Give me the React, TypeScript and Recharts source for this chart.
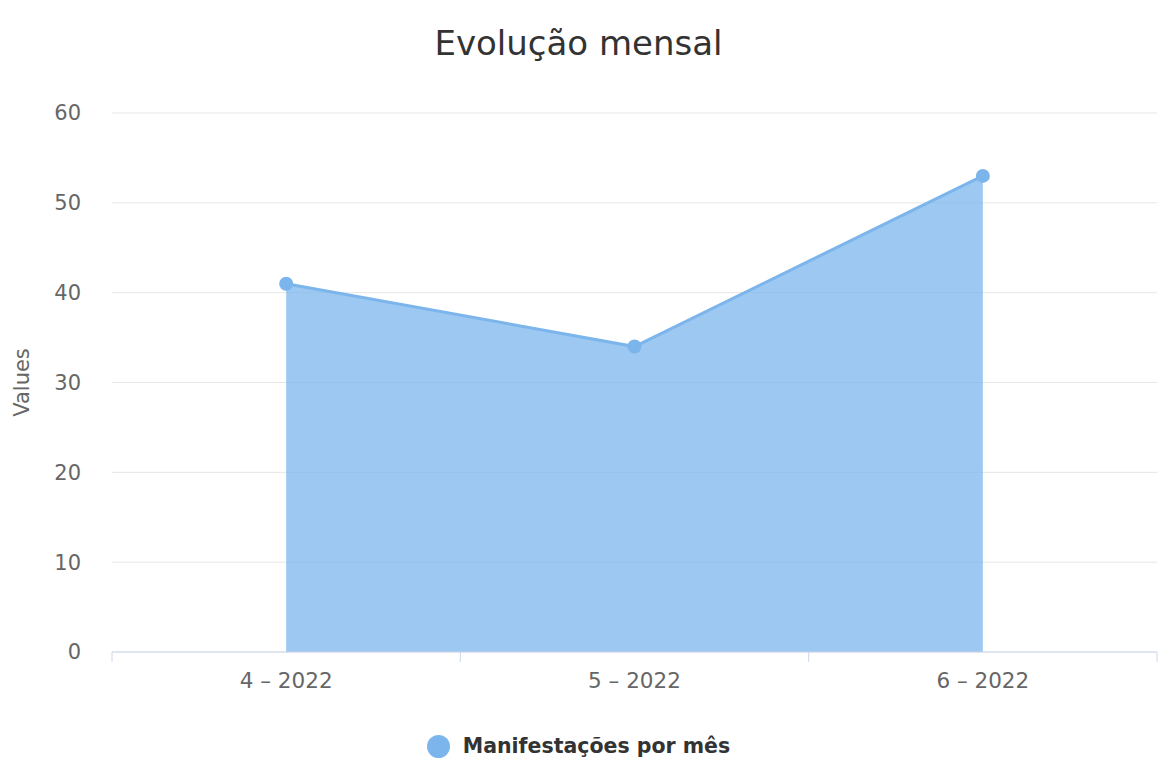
import { ComposedChart, Area, XAxis, YAxis, CartesianGrid, Legend } from "recharts";

const months = ["4 – 2022", "5 – 2022", "6 – 2022"];
const manifestacoes = [41, 34, 53];
const yTicks = [0, 10, 20, 30, 40, 50, 60];

const data = months.map((month, i) => ({ month, value: manifestacoes[i] }));

const FONT = "'DejaVu Sans', sans-serif";
const BLUE = "#7cb5ec";
const AXIS = "#ccd6eb";

const W = 1175;
const H = 777;
const LEFT = 112;
const RIGHT = 18;
// half of one category band, used as axis padding so points sit in the band centres
const HALF_BAND = (W - LEFT - RIGHT) / months.length / 2;

function XTick(props: any) {
  const { x, y, payload, index } = props;
  return (
    <g>
      <line x1={x - HALF_BAND} x2={x - HALF_BAND} y1={y} y2={y + 10} stroke={AXIS} />
      {index === months.length - 1 && (
        <line x1={x + HALF_BAND} x2={x + HALF_BAND} y1={y} y2={y + 10} stroke={AXIS} />
      )}
      <text x={x} y={y + 36} textAnchor="middle" fill="#666" fontSize={21.5} fontFamily={FONT}>
        {payload.value}
      </text>
    </g>
  );
}

function YLabel(props: any) {
  const { viewBox } = props;
  const cx = viewBox.x + 22;
  const cy = viewBox.y + viewBox.height / 2;
  return (
    <text
      x={cx}
      y={cy}
      transform={`rotate(-90 ${cx} ${cy})`}
      textAnchor="middle"
      dominantBaseline="central"
      fill="#666"
      fontSize={21}
      fontFamily={FONT}
    >
      Values
    </text>
  );
}

function LegendContent() {
  return (
    <div style={{ height: 30, display: "flex", alignItems: "center", justifyContent: "center", gap: 13 }}>
      <svg width={23} height={23}>
        <circle cx={11.5} cy={11.5} r={11.5} fill={BLUE} />
      </svg>
      <span style={{ fontFamily: FONT, fontSize: 20.5, fontWeight: 700, color: "#333" }}>
        Manifestações por mês
      </span>
    </div>
  );
}

export default function App() {
  return (
    <div style={{ position: "absolute", left: 0, top: 0, width: W, height: H, background: "#fff", fontFamily: FONT }}>
      <div
        style={{
          position: "absolute",
          top: 26,
          left: 0,
          width: W - RIGHT,
          textAlign: "center",
          fontSize: 34,
          lineHeight: 1,
          color: "#333",
        }}
      >
        Evolução mensal
      </div>
      <ComposedChart
        width={W}
        height={H}
        data={data}
        margin={{ top: 113, right: RIGHT, bottom: 16, left: 0 }}
      >
        <CartesianGrid vertical={false} stroke="#e6e6e6" />
        <XAxis
          dataKey="month"
          padding={{ left: HALF_BAND, right: HALF_BAND }}
          stroke={AXIS}
          tickLine={false}
          tickSize={0}
          tickMargin={0}
          height={79}
          interval={0}
          tick={<XTick />}
        />
        <YAxis
          domain={[0, 60]}
          ticks={yTicks}
          axisLine={false}
          tickLine={false}
          tickSize={0}
          tickMargin={31}
          width={LEFT}
          tick={{ fill: "#666", fontSize: 21, fontFamily: FONT }}
          label={(p: any) => <YLabel {...p} />}
        />
        <Area
          type="linear"
          dataKey="value"
          name="Manifestações por mês"
          stroke={BLUE}
          strokeWidth={3}
          fill={BLUE}
          fillOpacity={0.75}
          dot={{ r: 7, fill: BLUE, stroke: "none", fillOpacity: 1 }}
          isAnimationActive={false}
        />
        <Legend verticalAlign="bottom" height={30} content={<LegendContent />} />
      </ComposedChart>
    </div>
  );
}
